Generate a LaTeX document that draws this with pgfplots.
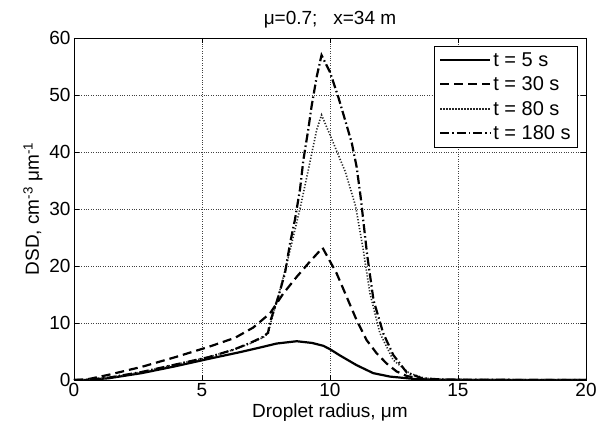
\documentclass[border=0pt]{standalone}
\usepackage{fontspec}
\setmainfont{Liberation Sans}
\usepackage{pgfplots}
\pgfplotsset{compat=1.18}
\begin{document}
\begin{tikzpicture}
\begin{axis}[name=ax, scale only axis, width=512pt, height=342pt,
 xmin=0,xmax=20,ymin=0,ymax=60,
 xtick={0,5,...,20}, ytick={0,10,...,60},
 tick align=inside, major tick length=5pt,
 grid=major, grid style={black!75, dotted, line width=0.6pt},
 axis line style={line width=0.8pt},
 every tick/.style={black, line width=0.6pt},
 /pgf/number format/assume math mode=true,
 ticklabel style={font=\fontsize{19}{22}\selectfont},
 label style={font=\fontsize{19}{22}\selectfont},
 title style={font=\fontsize{19}{22}\selectfont},
 title={μ=0.7;\ \ \ x=34 m},
 xlabel={Droplet radius, μm},
 ylabel={DSD, cm\textsuperscript{-3} μm\textsuperscript{-1}},
 legend style={at={(rel axis cs:1,1)}, anchor=north east, xshift=-8pt, yshift=-8pt,
   font=\fontsize{20}{23}\selectfont, draw=black, line width=0.8pt, inner xsep=5pt, inner ysep=4pt,
   row sep=5pt},
 legend cell align=left,
 legend image code/.code={\draw[#1] plot coordinates {(0cm,0cm) (0.9cm,0cm) (1.75cm,0cm)};},
]
\addplot[black, line width=2.2pt] coordinates {(0,0) (0.5,0.02) (1.34,0.3) (2.64,1.2) (3.95,2.4) (5.25,3.7) (6.5,4.9) (7.27,5.7) (7.92,6.4) (8.7,6.8) (9.3,6.5) (9.74,6.0) (10.0,5.4) (10.39,4.3) (11.04,2.6) (11.69,1.2) (12.34,0.6) (13.25,0.2) (14.3,0.03) (20,0)};
\addlegendentry{t = 5 s}
\addplot[black, line width=2.2pt, dash pattern=on 9pt off 5pt] coordinates {(0,0) (0.5,0.1) (1.34,0.9) (2.64,2.3) (3.95,4.0) (5.25,5.8) (6.29,7.4) (7.0,9.2) (7.66,11.7) (8.18,15.2) (8.7,18.1) (9.22,20.8) (9.71,23.2) (10.26,18.7) (10.65,14.6) (11.04,10.5) (11.43,7.0) (11.82,4.7) (12.21,2.9) (12.6,1.5) (13.0,0.7) (13.6,0.2) (14.4,0.03) (20,0)};
\addlegendentry{t = 30 s}
\addplot[black!85, line width=1.6pt, dash pattern=on 1.2pt off 1.8pt] coordinates {(0,0) (0.5,0.05) (1.34,0.4) (2.64,1.4) (3.95,2.7) (5.25,4.0) (6.22,5.3) (6.88,6.4) (7.4,7.5) (7.6,8.3) (7.7,10.3) (8.0,15) (8.4,22) (8.85,30.5) (9.15,36.8) (9.48,43.9) (9.67,46.5) (10.0,43) (10.6,36.5) (11.0,30.5) (11.3,22.8) (11.56,15.2) (11.95,8.2) (12.47,3.5) (13.1,1.2) (13.7,0.3) (14.5,0.05) (20,0)};
\addlegendentry{t = 80 s}
\addplot[black, line width=2.2pt, dash pattern=on 9pt off 3pt on 1.5pt off 3pt] coordinates {(0,0) (0.5,0.05) (1.34,0.4) (2.64,1.4) (3.95,2.7) (5.25,4.0) (6.22,5.3) (6.88,6.5) (7.4,7.6) (7.58,8.3) (7.66,10.2) (7.98,14.6) (8.24,18.7) (8.44,24) (8.63,28.1) (8.83,33.5) (8.96,38.6) (9.15,43.9) (9.28,48) (9.48,53.2) (9.67,57) (10.0,54) (10.32,49.7) (10.59,45.6) (10.85,41.6) (11.04,37.4) (11.2,32) (11.45,22) (11.7,14) (12.08,8.2) (12.47,4.4) (13.0,1.3) (13.6,0.3) (14.5,0.05) (20,0)};
\addlegendentry{t = 180 s}
\end{axis}
\pgfresetboundingbox
\path[use as bounding box] ([xshift=-74pt,yshift=-45pt]ax.south west) rectangle ([xshift=22pt,yshift=38pt]ax.north east);
\end{tikzpicture}
\end{document}
